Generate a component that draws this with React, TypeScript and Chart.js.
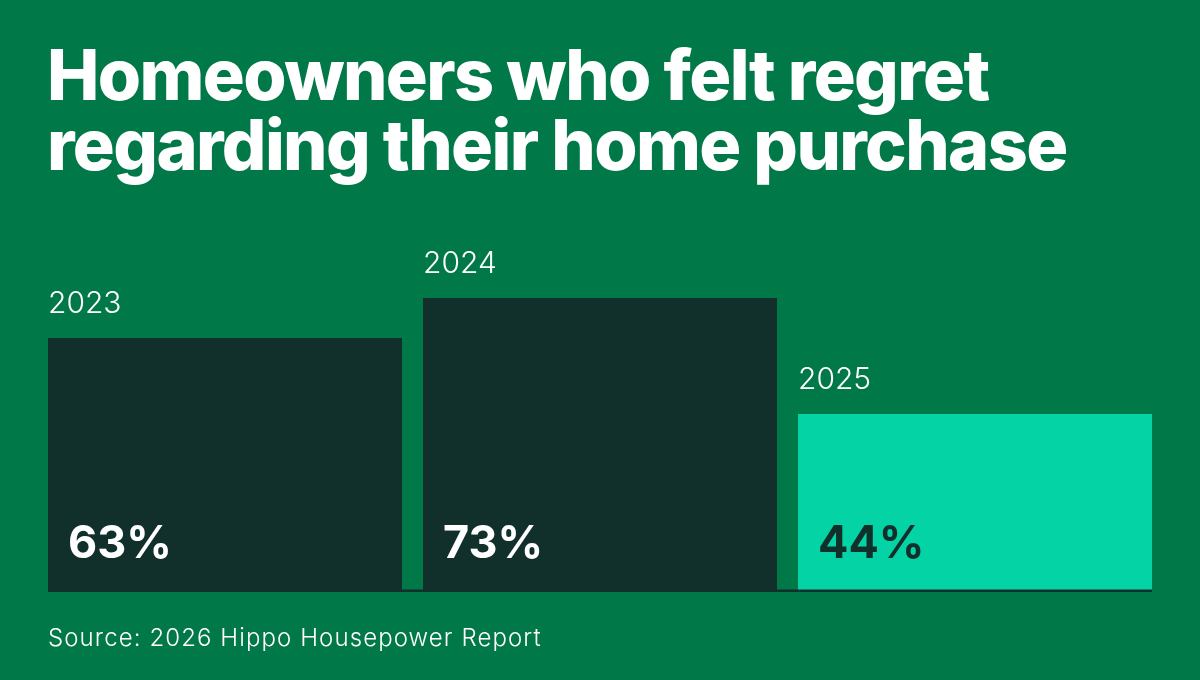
import React, { useEffect, useRef } from "react";
import { Chart, registerables } from "chart.js";

Chart.register(...registerables);

const titleLines = ["Homeowners who felt regret", "regarding their home purchase"];
const categories = ["2023", "2024", "2025"];
const values = [63, 73, 44];
const valueLabels = ["63%", "73%", "44%"];
const sourceText = "Source: 2026 Hippo Housepower Report";

const BG = "#007847";
const DARK = "#12302B";
const TEAL = "#04D4A5";
const barColors = [DARK, DARK, TEAL];
const labelColors = ["#FFFFFF", "#FFFFFF", DARK];

const labelsPlugin = {
  id: "barLabels",
  afterDatasetsDraw(chart: any) {
    const { ctx, chartArea } = chart;
    const meta = chart.getDatasetMeta(0);
    ctx.save();
    const first = meta.data[0];
    const last = meta.data[meta.data.length - 1];
    const x0 = first.x - first.width / 2;
    const x1 = last.x + last.width / 2;
    ctx.fillStyle = DARK;
    ctx.fillRect(x0, chartArea.bottom - 0.5, x1 - x0, 2.5);
    meta.data.forEach((bar: any, i: number) => {
      const left = bar.x - bar.width / 2;
      ctx.textAlign = "left";
      ctx.textBaseline = "alphabetic";
      ctx.fillStyle = "#FFFFFF";
      ctx.font = "300 30px Inter";
      ctx.fillText(categories[i], left, bar.y - 25);
      ctx.fillStyle = labelColors[i];
      ctx.font = "700 45px Inter";
      ctx.fillText(valueLabels[i], left + 20, chartArea.bottom - 32);
    });
    ctx.restore();
  },
};

export default function App() {
  const ref = useRef<HTMLCanvasElement>(null);
  useEffect(() => {
    document.body.style.margin = "0";
    const chart = new Chart(ref.current!, {
      type: "bar",
      data: {
        labels: categories,
        datasets: [
          {
            data: values,
            backgroundColor: barColors,
            borderWidth: 0,
            barPercentage: 0.944,
            categoryPercentage: 1,
          },
        ],
      },
      options: {
        animation: false,
        responsive: false,
        maintainAspectRatio: false,
        layout: { padding: { left: 37.5, right: 37.5, top: 230, bottom: 90 } },
        plugins: { legend: { display: false }, tooltip: { enabled: false } },
        scales: {
          x: { display: false, grid: { display: false } },
          y: { display: false, min: 0, max: 90, grid: { display: false } },
        },
      },
      plugins: [labelsPlugin],
    });
    return () => chart.destroy();
  }, []);
  return (
    <div style={{ position: "fixed", left: 0, top: 0, width: 1200, height: 680, background: BG, overflow: "hidden" }}>
      <canvas ref={ref} width={1200} height={680} style={{ position: "absolute", left: 0, top: 0, width: 1200, height: 680 }} />
      <div
        style={{
          position: "absolute",
          left: 47,
          top: 40,
          color: "#FFFFFF",
          fontFamily: "Inter",
          fontWeight: 800,
          fontSize: 70,
          lineHeight: "70px",
          letterSpacing: "-1.6px",
          whiteSpace: "nowrap",
        }}
      >
        {titleLines.map((l) => (
          <div key={l}>{l}</div>
        ))}
      </div>
      <div
        style={{
          position: "absolute",
          left: 48,
          top: 623,
          color: "#FFFFFF",
          fontFamily: "Inter",
          fontWeight: 300,
          fontSize: 24,
          lineHeight: "30px",
          letterSpacing: "1.1px",
          whiteSpace: "nowrap",
        }}
      >
        {sourceText}
      </div>
    </div>
  );
}
